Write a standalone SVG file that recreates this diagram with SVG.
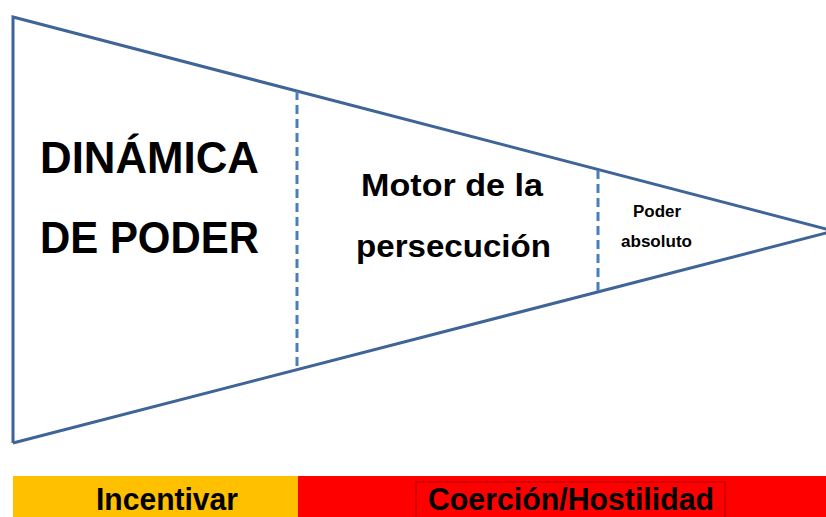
<svg xmlns="http://www.w3.org/2000/svg" width="826" height="517" viewBox="0 0 826 517">
<style>
.edge{fill:none;stroke:#3F6497;stroke-width:3;stroke-linejoin:miter}
.div{fill:none;stroke:#4A7EBB;stroke-width:3;stroke-dasharray:9,5}
.t{font-family:"Liberation Sans",Arial,sans-serif;font-weight:bold;fill:#000}
</style>
<rect width="826" height="517" fill="#fff"/>
<g id="connectors">
<path class="edge" d="M13,443 L13,17 L830,230 M13,443 L830,232"/>
<line class="div" x1="297" y1="91" x2="297" y2="370"/>
<line class="div" x1="598" y1="170" x2="598" y2="291"/>
</g>
<g id="node-dinamica">
<text class="t" x="40" y="173" font-size="45" textLength="219" lengthAdjust="spacingAndGlyphs">DINÁMICA</text>
<text class="t" x="40" y="253" font-size="45" textLength="219" lengthAdjust="spacingAndGlyphs">DE PODER</text>
</g>
<g id="node-motor">
<text class="t" x="361" y="196" font-size="31" textLength="182" lengthAdjust="spacingAndGlyphs">Motor de la</text>
<text class="t" x="356" y="257" font-size="31" textLength="195" lengthAdjust="spacingAndGlyphs">persecución</text>
</g>
<g id="node-poder">
<text class="t" x="633" y="217" font-size="16" textLength="48" lengthAdjust="spacingAndGlyphs">Poder</text>
<text class="t" x="621" y="247" font-size="16" textLength="71" lengthAdjust="spacingAndGlyphs">absoluto</text>
</g>
<g id="bar-incentivar">
<rect x="13" y="476" width="285" height="41" fill="#FFC000"/>
<text class="t" x="96" y="510" font-size="31" textLength="142" lengthAdjust="spacingAndGlyphs">Incentivar</text>
</g>
<g id="bar-coercion">
<rect x="298" y="476" width="528" height="41" fill="#FF0000"/>
<rect x="416" y="482" width="309" height="40" fill="none" stroke="#B00000" stroke-width="1"/>
<text class="t" x="428" y="510" font-size="31" textLength="286" lengthAdjust="spacingAndGlyphs">Coerción/Hostilidad</text>
</g>
</svg>
